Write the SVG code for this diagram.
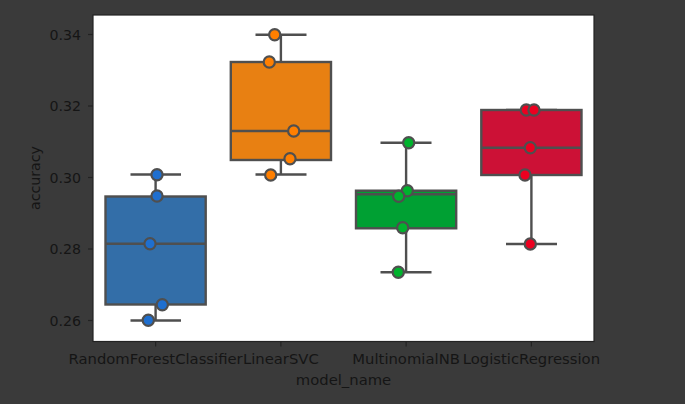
<svg xmlns="http://www.w3.org/2000/svg" width="685" height="404" viewBox="0 0 685 404">
<style>
.t{font-family:"DejaVu Sans",sans-serif;font-size:14.2px;fill:#151515}
.tx{font-size:14.8px}
.ax{fill:#fff;stroke:#222;stroke-width:1.2}
.tk{stroke:#222;stroke-width:1.2}
.bx{stroke:#4f4f4f;stroke-width:2.4}
.ln{stroke:#4f4f4f;stroke-width:2.4;fill:none}
.pt{stroke:#4f4f4f;stroke-width:2.2}
</style>
<rect width="685" height="404" fill="#3a3a3a"/>
<rect class="ax" x="93" y="15" width="501" height="326.5"/>
<g id="yaxis">
<line class="tk" x1="88" y1="34.5" x2="93" y2="34.5"/>
<line class="tk" x1="88" y1="106" x2="93" y2="106"/>
<line class="tk" x1="88" y1="177.5" x2="93" y2="177.5"/>
<line class="tk" x1="88" y1="249" x2="93" y2="249"/>
<line class="tk" x1="88" y1="320.5" x2="93" y2="320.5"/>
<text class="t" x="81" y="39.5" text-anchor="end">0.34</text>
<text class="t" x="81" y="111" text-anchor="end">0.32</text>
<text class="t" x="81" y="182.5" text-anchor="end">0.30</text>
<text class="t" x="81" y="254" text-anchor="end">0.28</text>
<text class="t" x="81" y="325.5" text-anchor="end">0.26</text>
<text class="t" transform="translate(39.5,178) rotate(-90)" text-anchor="middle">accuracy</text>
</g>
<g id="xaxis">
<line class="tk" x1="155.6" y1="341.5" x2="155.6" y2="346.5"/>
<line class="tk" x1="280.9" y1="341.5" x2="280.9" y2="346.5"/>
<line class="tk" x1="406.1" y1="341.5" x2="406.1" y2="346.5"/>
<line class="tk" x1="531.4" y1="341.5" x2="531.4" y2="346.5"/>
<text class="t tx" x="155.6" y="363.5" text-anchor="middle">RandomForestClassifier</text>
<text class="t tx" x="280.9" y="363.5" text-anchor="middle">LinearSVC</text>
<text class="t tx" x="406.1" y="363.5" text-anchor="middle">MultinomialNB</text>
<text class="t tx" x="531.4" y="363.5" text-anchor="middle">LogisticRegression</text>
<text class="t tx" x="343.5" y="385" text-anchor="middle">model_name</text>
</g>
<g id="connectors">
<path class="ln" d="M155.6 196.5V174.5M130.5 174.5H181M155.6 304.5V320.5M130.5 320.5H181"/>
<path class="ln" d="M280.9 62V34.7M255.5 34.7H306.5M280.9 160V174.5M255.5 174.5H306.5"/>
<path class="ln" d="M406.1 190.7V142.7M380.5 142.7H431.5M406.1 228.3V272.3M380.5 272.3H431.5"/>
<path class="ln" d="M506 110H557M531.4 175V244M506 244H557"/>
</g>
<g id="box-randomforest">
<rect class="bx" x="105.5" y="196.5" width="100.2" height="108" fill="#336ea8"/>
<line class="ln" x1="105.5" y1="243.7" x2="205.7" y2="243.7"/>
<circle class="pt" cx="157" cy="174.7" r="5.6" fill="#1f6fcf"/>
<circle class="pt" cx="157" cy="196" r="5.6" fill="#1f6fcf"/>
<circle class="pt" cx="150" cy="243.7" r="5.6" fill="#1f6fcf"/>
<circle class="pt" cx="162.3" cy="304.7" r="5.6" fill="#1f6fcf"/>
<circle class="pt" cx="148.3" cy="320.2" r="5.6" fill="#1f6fcf"/>
</g>
<g id="box-linearsvc">
<rect class="bx" x="230.8" y="62" width="100.2" height="98" fill="#e88012"/>
<line class="ln" x1="230.8" y1="131" x2="331" y2="131"/>
<circle class="pt" cx="274.7" cy="34.7" r="5.6" fill="#ff7f00"/>
<circle class="pt" cx="269.3" cy="62" r="5.6" fill="#ff7f00"/>
<circle class="pt" cx="293.7" cy="131" r="5.6" fill="#ff7f00"/>
<circle class="pt" cx="290" cy="158.7" r="5.6" fill="#ff7f00"/>
<circle class="pt" cx="270.7" cy="175" r="5.6" fill="#ff7f00"/>
</g>
<g id="box-multinomialnb">
<rect class="bx" x="356" y="190.7" width="100.2" height="37.6" fill="#00a033"/>
<line class="ln" x1="356" y1="194.3" x2="456.2" y2="194.3"/>
<circle class="pt" cx="408.7" cy="142.7" r="5.6" fill="#00b22d"/>
<circle class="pt" cx="407.3" cy="190.7" r="5.6" fill="#00b22d"/>
<circle class="pt" cx="398.7" cy="196.3" r="5.6" fill="#00b22d"/>
<circle class="pt" cx="402.7" cy="227.7" r="5.6" fill="#00b22d"/>
<circle class="pt" cx="398.3" cy="272.3" r="5.6" fill="#00b22d"/>
</g>
<g id="box-logisticregression">
<rect class="bx" x="481.3" y="110" width="100.2" height="65" fill="#cc1136"/>
<line class="ln" x1="481.3" y1="147.7" x2="581.5" y2="147.7"/>
<circle class="pt" cx="526.3" cy="110" r="5.6" fill="#ec0020"/>
<circle class="pt" cx="534" cy="110" r="5.6" fill="#ec0020"/>
<circle class="pt" cx="530.3" cy="147.7" r="5.6" fill="#ec0020"/>
<circle class="pt" cx="525" cy="175" r="5.6" fill="#ec0020"/>
<circle class="pt" cx="530.3" cy="244" r="5.6" fill="#ec0020"/>
</g>
</svg>
